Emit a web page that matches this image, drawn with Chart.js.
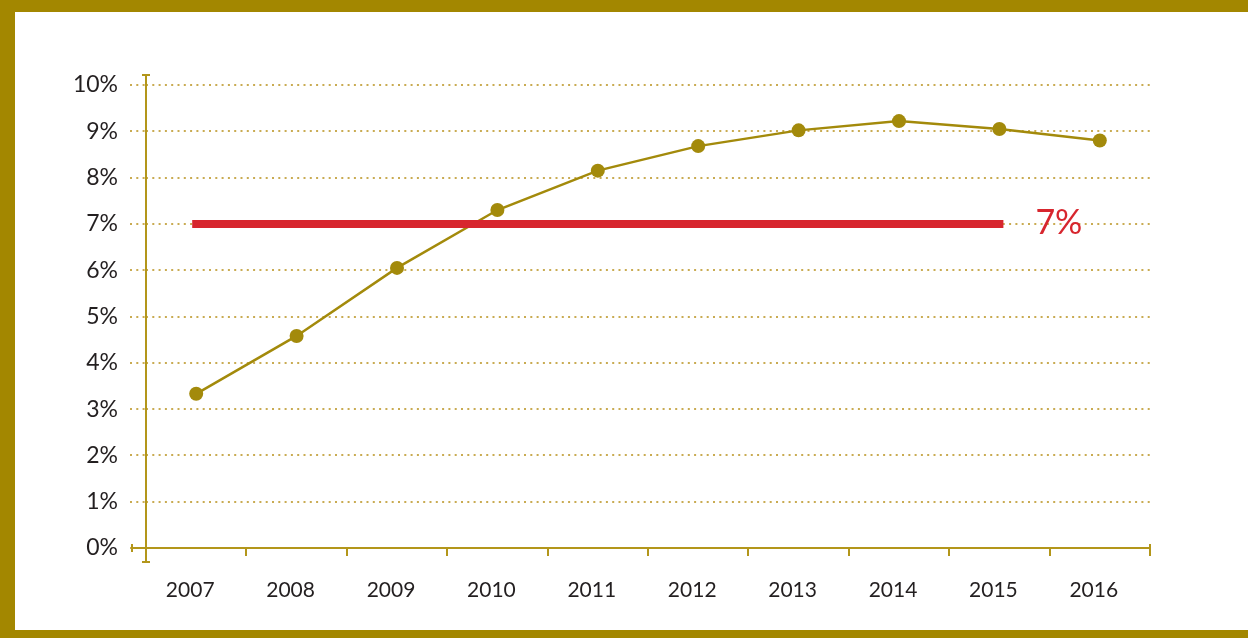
<!DOCTYPE html>
<html>
<head>
<meta charset="utf-8">
<script src="https://cdn.jsdelivr.net/npm/chart.js@4/dist/chart.umd.min.js"></script>
<style>
  html, body { margin: 0; padding: 0; background: #fff; }
  #frame {
    position: absolute; left: 0; top: 0;
    width: 1248px; height: 638px; box-sizing: border-box;
    border-left: 15px solid #A38700;
    border-top: 12px solid #A38700;
    border-bottom: 8px solid #A38700;
    background: #fff;
  }
  #c { display: block; }
</style>
</head>
<body>
<div id="frame"><canvas id="c" width="1233" height="618"></canvas></div>
<script>
  // chart data
  const years = ['2007','2008','2009','2010','2011','2012','2013','2014','2015','2016'];
  const shareValues = [3.33, 4.58, 6.05, 7.3, 8.15, 8.68, 9.02, 9.22, 9.05, 8.8];
  const targetValue = 7;
  const targetLabel = '7%';
  const yTicks = [0,1,2,3,4,5,6,7,8,9,10];

  const GOLD = '#A38A0B';
  const AXIS = '#B3961A';
  const GRID = '#C9AB52';
  const RED = '#D7262E';
  const TEXT = '#231F20';
  const FONT = 'Lato, "Open Sans", sans-serif';

  // red target line runs 2007..2015
  const targetSeries = years.map((y, i) => i <= 8 ? targetValue : null);

  const axisDecor = {
    id: 'axisDecor',
    afterDraw(chart) {
      const ctx = chart.ctx;
      const a = chart.chartArea;
      const x = chart.scales.x, y = chart.scales.y;
      ctx.save();
      ctx.strokeStyle = AXIS;
      ctx.lineWidth = 2;
      // y axis with caps
      const yTop = a.top - 10, yBot = a.bottom + 14;
      ctx.beginPath();
      ctx.moveTo(a.left, yTop); ctx.lineTo(a.left, yBot);
      ctx.moveTo(a.left - 4, yTop); ctx.lineTo(a.left + 4, yTop);
      ctx.moveTo(a.left - 4, yBot); ctx.lineTo(a.left + 4, yBot);
      // x axis with end caps
      const xl = a.left - 14, xr = a.right;
      ctx.moveTo(xl, a.bottom); ctx.lineTo(xr, a.bottom);
      ctx.moveTo(xl, a.bottom - 4); ctx.lineTo(xl, a.bottom + 4);
      ctx.moveTo(xr, a.bottom - 4); ctx.lineTo(xr, a.bottom + 4);
      ctx.stroke();

      // target label
      ctx.fillStyle = RED;
      ctx.font = '34px ' + FONT;
      ctx.textAlign = 'left';
      ctx.textBaseline = 'middle';
      ctx.fillText(targetLabel, x.getPixelForValue(8) + 36, y.getPixelForValue(targetValue) - 1);
      ctx.restore();
    }
  };

  new Chart(document.getElementById('c'), {
    type: 'line',
    data: {
      labels: years,
      datasets: [
        {
          data: shareValues,
          borderColor: GOLD,
          backgroundColor: GOLD,
          borderWidth: 2.5,
          pointRadius: 7,
          pointHoverRadius: 7,
          pointBorderWidth: 0,
          tension: 0,
          order: 2
        },
        {
          data: targetSeries,
          borderColor: RED,
          borderWidth: 8,
          borderCapStyle: 'square',
          pointRadius: 0,
          spanGaps: false,
          order: 1
        }
      ]
    },
    options: {
      responsive: false,
      animation: false,
      devicePixelRatio: 1,
      layout: { padding: { top: 73, right: 98, left: 0, bottom: 0 } },
      plugins: { legend: { display: false }, tooltip: { enabled: false } },
      scales: {
        x: {
          type: 'category',
          offset: true,
          afterFit: s => { s.height = 82; },
          border: { display: false },
          grid: {
            offset: true,
            drawOnChartArea: false,
            drawTicks: true,
            tickLength: 8,
            color: AXIS,
            lineWidth: 2
          },
          ticks: {
            color: TEXT,
            font: { family: FONT, size: 21 },
            padding: 22,
            labelOffset: -6,
            maxRotation: 0,
            autoSkip: false
          }
        },
        y: {
          min: 0,
          max: 10,
          afterFit: s => { s.width = 131; },
          afterBuildTicks: s => { s.ticks = yTicks.map(v => ({ value: v })); },
          border: { display: false, dash: [2, 4.3] },
          grid: {
            color: GRID,
            lineWidth: 2,
            tickBorderDash: [2, 4.3],
            drawTicks: true,
            tickLength: 16,
            tickColor: GRID
          },
          ticks: {
            color: TEXT,
            font: { family: FONT, size: 23 },
            padding: 12,
            callback: v => v + '%'
          }
        }
      }
    },
    plugins: [axisDecor]
  });
</script>
</body>
</html>
